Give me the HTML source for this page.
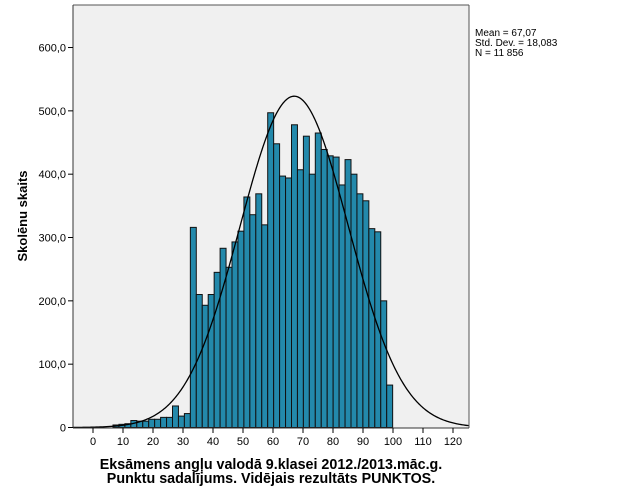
<!DOCTYPE html>
<html><head><meta charset="utf-8"><style>
body{margin:0;background:#fff;}
svg{display:block;font-family:"Liberation Sans",sans-serif;}
</style></head><body>
<svg id="s" width="625" height="500" xmlns="http://www.w3.org/2000/svg">
<rect x="0" y="0" width="625" height="500" fill="#fff"/>
<rect x="73" y="5" width="396" height="423" fill="#f0f0f0"/>
<g id="bars"></g>
<path id="curve" fill="none" stroke="#000" stroke-width="1.3"/>
<line x1="73" y1="5" x2="469" y2="5" stroke="#555"/>
<line x1="469" y1="5" x2="469" y2="428" stroke="#555"/>
<line x1="73" y1="5" x2="73" y2="428" stroke="#333"/>
<line x1="73" y1="428" x2="469" y2="428" stroke="#333"/>
<g id="ticks" font-size="11" fill="#000"></g>
<text x="475" y="36" font-size="10">Mean = 67,07</text>
<text x="475" y="46" font-size="10">Std. Dev. = 18,083</text>
<text x="475" y="56" font-size="10">N = 11 856</text>
<text transform="translate(27,216) rotate(-90)" text-anchor="middle" font-size="13" font-weight="bold">Skolēnu skaits</text>
<text x="271" y="469" text-anchor="middle" font-size="14.3" font-weight="bold">Eksāmens angļu valodā 9.klasei 2012./2013.māc.g.</text>
<text x="271" y="483" text-anchor="middle" font-size="14.3" font-weight="bold">Punktu sadalījums. Vidējais rezultāts PUNKTOS.</text>
</svg>
<script>
var NS="http://www.w3.org/2000/svg";
function el(t,a,p){var e=document.createElementNS(NS,t);for(var k in a)e.setAttribute(k,a[k]);p.appendChild(e);return e;}
var y0=427.5,k=0.6333;
var vals=[4,5,6,11,10,10,13,13,16,16,34,18,22,316,210,193,210,245,283,253,293,310,364,336,369,320,497,448,397,394,478,407,460,400,465,439,429,427,383,423,400,369,358,314,309,200,67];
var g=document.getElementById('bars');
for(var i=0;i<vals.length;i++){var x=113+i*5.95,h=vals[i]*k;
el('rect',{x:x.toFixed(2),y:(y0-h).toFixed(2),width:5.95,height:h.toFixed(2),fill:'#2389ab',stroke:'#111','stroke-width':1},g);}
var d='',m=67.07,s=18.083,pk=11856*2/(s*Math.sqrt(2*Math.PI));
for(var px=73;px<=469;px+=1){var v=(px-93)/3;var y=pk*Math.exp(-0.5*Math.pow((v-m)/s,2));d+=(px==73?'M':'L')+px+','+(y0-y*k).toFixed(2);}
document.getElementById('curve').setAttribute('d',d);
var t=document.getElementById('ticks');
for(var j=0;j<=6;j++){var yy=y0-j*100*k;el('line',{x1:68,y1:yy,x2:73,y2:yy,stroke:'#000'},t);
var tx=el('text',{x:66,y:yy+4,'text-anchor':'end'},t);tx.textContent=j==0?'0':(j*100)+',0';}
for(var j=0;j<=12;j++){var xx=93+j*30;el('line',{x1:xx,y1:428,x2:xx,y2:433,stroke:'#000'},t);
var tx=el('text',{x:xx,y:445,'text-anchor':'middle'},t);tx.textContent=j*10;}
</script>
</body></html>
